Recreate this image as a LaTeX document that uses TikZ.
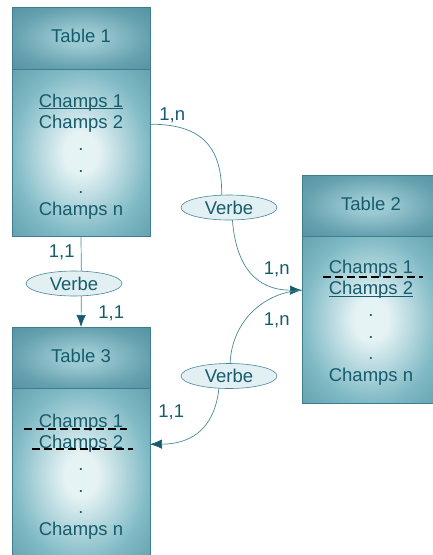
\documentclass[tikz,border=0pt]{standalone}
\usepackage{fontspec}
\setmainfont{Liberation Sans}
\usetikzlibrary{shapes,arrows.meta,positioning}
\definecolor{ink}{RGB}{22,92,108}
\definecolor{edge}{RGB}{62,126,142}
\definecolor{wire}{RGB}{72,136,150}
\definecolor{paleteal}{RGB}{226,240,243}
\definecolor{headin}{RGB}{156,202,210}
\definecolor{headout}{RGB}{100,160,174}
\definecolor{headdark}{RGB}{86,146,161}
\definecolor{bodyin}{RGB}{230,243,245}
\definecolor{bodyout}{RGB}{126,185,196}
\definecolor{bodydark}{RGB}{100,161,174}
\pgfdeclareradialshading{tablehead}{\pgfpoint{0bp}{0bp}}{color(0bp)=(headin);
    color(6bp)=(headin); color(25bp)=(headout); color(36bp)=(headdark);
    color(50bp)=(headdark)}
\pgfdeclareradialshading{tablebody}{\pgfpoint{0bp}{0bp}}{color(0bp)=(bodyin);
    color(6bp)=(bodyin); color(25bp)=(bodyout); color(36bp)=(bodydark);
    color(50bp)=(bodydark)}
\newcommand{\erfont}{\fontsize{18.5}{22}\selectfont}
\tikzstyle{head} = [draw=edge, line width=0.9pt, rectangle, outer sep=0pt,
    shade, shading=tablehead, text=ink, font=\erfont,
    text height=13pt, text depth=4pt, minimum width=138pt]
\tikzstyle{body} = [draw=edge, line width=0.9pt, rectangle, outer sep=0pt,
    shade, shading=tablebody, minimum width=138pt]
\tikzstyle{field} = [inner sep=0pt, outer sep=0pt, text=ink, font=\erfont,
    text height=13pt, text depth=4pt, node distance=4.7pt]
\tikzstyle{verbe} = [draw=wire, line width=0.6pt, ellipse, fill=paleteal,
    text=ink, font=\erfont, inner sep=0pt, minimum width=96pt,
    minimum height=25pt]
\tikzstyle{card} = [inner sep=0pt, text=ink, font=\erfont]
\tikzstyle{link} = [draw=wire, line width=0.7pt]
\tikzstyle{key} = [draw=ink, line width=0.9pt]
\tikzstyle{fk} = [draw=black, line width=1.6pt, dash pattern=on 8pt off 4pt]

\begin{document}
\begin{tikzpicture}[x=1pt, y=-1pt, >={Latex[length=12pt,width=9.5pt,color=ink]}]
    \useasboundingbox (0,0) rectangle (432,555);

    % Table 1
    \node [head, minimum height=62pt] (t1head) at (81,38) {Table 1};
    \node [body, minimum height=167pt, below=0pt of t1head] (t1body) {};
    \node [field, below=25pt of t1head] (t1f1) {Champs 1};
    \node [field, below=of t1f1] (t1f2) {Champs 2};
    \node [field, below=of t1f2] (t1d1) {.};
    \node [field, below=of t1d1] (t1d2) {.};
    \node [field, below=of t1d2] (t1d3) {.};
    \node [field, below=of t1d3] (t1fn) {Champs n};
    \draw [key] ([yshift=2.5pt]t1f1.south west) -- ([yshift=2.5pt]t1f1.south east);

    % Table 2 (right edge runs off the page)
    \node [head, minimum height=61pt] (t2head) at (371,205.5) {Table 2};
    \node [body, minimum height=167pt, below=0pt of t2head] (t2body) {};
    \node [field, below=24pt of t2head] (t2f1) {Champs 1};
    \node [field, below=of t2f1] (t2f2) {Champs 2};
    \node [field, below=of t2f2] (t2d1) {.};
    \node [field, below=of t2d1] (t2d2) {.};
    \node [field, below=of t2d2] (t2d3) {.};
    \node [field, below=of t2d3] (t2fn) {Champs n};
    \draw [key] ([yshift=2.3pt]t2f2.south west) -- ([yshift=2.3pt]t2f2.south east);
    \draw [fk] ([xshift=-6pt]t2f1.south west) -- ([xshift=10pt]t2f1.south east);

    % Table 3 (bottom runs off the page)
    \node [head, minimum height=61pt] (t3head) at (81,357.5) {Table 3};
    \node [body, minimum height=175pt, below=0pt of t3head] (t3body) {};
    \node [field, below=26pt of t3head] (t3f1) {Champs 1};
    \node [field, below=of t3f1] (t3f2) {Champs 2};
    \node [field, below=of t3f2] (t3d1) {.};
    \node [field, below=of t3d1] (t3d2) {.};
    \node [field, below=of t3d2] (t3d3) {.};
    \node [field, below=of t3d3] (t3fn) {Champs n};
    \draw [fk] ([xshift=-15pt,yshift=2pt]t3f1.south west) -- ([xshift=4pt,yshift=2pt]t3f1.south east);
    \draw [fk] ([xshift=-7pt,yshift=3.5pt]t3f2.south west) -- ([xshift=10pt,yshift=3.5pt]t3f2.south east);

    % The relations
    \node [verbe] (v1) at (74,283.5) {Verbe};
    \node [verbe] (v2) at (229,207.5) {Verbe};
    \node [verbe] (v3) at (229,376) {Verbe};

    % Table 1 -> Table 3
    \draw [link] (t1body.south) -- node [card, at start, anchor=base east,
        xshift=-6pt, yshift=-21pt] (c5) {1,1} (v1.60);
    \draw [link, ->] (v1.300) -- node [card, at end, anchor=base west,
        xshift=17pt, yshift=9pt] (c6) {1,1} (t3head.north);

    % Table 1 -> Table 2
    \draw [link] (t1f2 -| t1body.east) .. controls (205,124) and (222,150) .. (v2.120)
        node [card, at start, anchor=base west, xshift=9pt, yshift=3.5pt] (c1) {1,n};
    \draw [link, ->] (v2.285) .. controls (236,265) and (255,290) .. (t2f2 -| t2body.west)
        node [card, at end, anchor=base east, xshift=-12pt, yshift=16pt] (c2) {1,n};

    % Table 2 -> Table 3
    \draw [link] (t2f2 -| t2body.west) .. controls (265,292) and (232,320) .. (v3.85)
        node [card, at start, anchor=base east, xshift=-12pt, yshift=-35pt] (c3) {1,n};
    \draw [link, ->] (v3.231) .. controls (215,425) and (195,444) .. (t3f2 -| t3body.east)
        node [card, at end, anchor=base west, xshift=8pt, yshift=27pt] (c4) {1,1};
\end{tikzpicture}
\end{document}
